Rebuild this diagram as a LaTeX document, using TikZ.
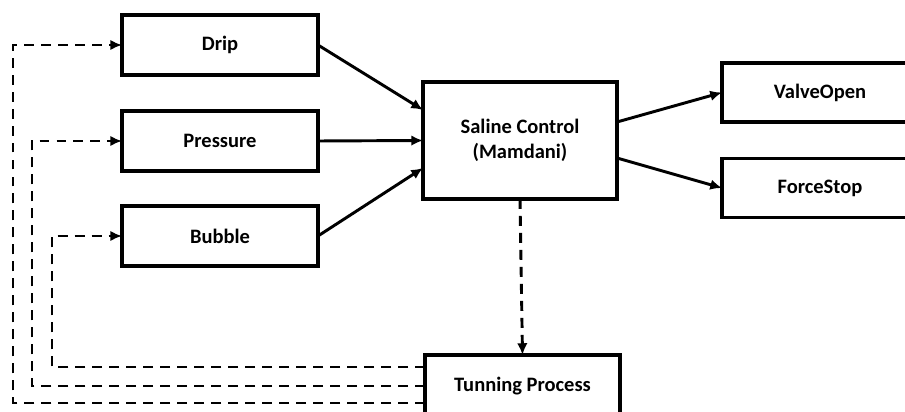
\documentclass[tikz,border=0pt]{standalone}
\usepackage{fontspec}
\setmainfont{Carlito}
\usetikzlibrary{arrows.meta}
\tikzset{
  block/.style={
    draw, line width=2.6pt,
    fill=white,
    minimum width=5.88cm,
    minimum height=1.8cm,
    inner sep=0, outer sep=0,
    font=\fontsize{17.5}{21}\selectfont\bfseries,
    align=center
  },
  flow/.style={
    line width=2.5pt,
    -{Latex[length=10pt,width=9pt]}
  },
  feedback/.style={
    flow,
    dash pattern=on 8.5pt off 6pt
  }
}

\begin{document}
\begin{tikzpicture}

\useasboundingbox (0,0) rectangle (27.15,12.36);

%%%%%%%%% sensor inputs
  \node[block] (drip)     at (6.6,11.01) {Drip};
  \node[block] (pressure) at (6.6,8.13)  {Pressure};
  \node[block] (bubble)   at (6.6,5.28)  {Bubble};

%%%%%%%%% fuzzy controller
  \node[block, minimum width=5.82cm, minimum height=3.51cm] (saline) at (15.6,8.145)
       {Saline Control\\(Mamdani)};

%%%%%%%%% outputs
  \node[block, minimum height=1.77cm] (valve) at (24.6,9.585) {ValveOpen};
  \node[block, minimum height=1.77cm] (force) at (24.6,6.72)  {ForceStop};

%%%%%%%%% tuning
  \node[block, minimum width=5.85cm, minimum height=1.86cm] (tunning) at (15.675,0.78)
       {Tunning Process};

%%%%%%%%% arrows in and out
    \draw[flow] (drip.east)     -- ([yshift=0.915cm]saline.west);
    \draw[flow] (pressure.east) -- (saline.west);
    \draw[flow] (bubble.east)   -- ([yshift=-0.825cm]saline.west);

    \draw[flow] ([yshift=0.555cm]saline.east)  -- (valve.west);
    \draw[flow] ([yshift=-0.525cm]saline.east) -- (force.west);

%%%%%%%%% feedback loops
    \draw[feedback] (saline.south) -- (tunning.north);

    \coordinate (loopA) at (0.39,0.27);
    \coordinate (loopB) at (0.96,0.78);
    \coordinate (loopC) at (1.56,1.35);
    \draw[feedback] ([yshift=-0.51cm]tunning.west) -- (loopA) |- (drip.west);
    \draw[feedback] (tunning.west)                 -- (loopB) |- (pressure.west);
    \draw[feedback] ([yshift=0.57cm]tunning.west)  -- (loopC) |- (bubble.west);

\end{tikzpicture}
\end{document}
